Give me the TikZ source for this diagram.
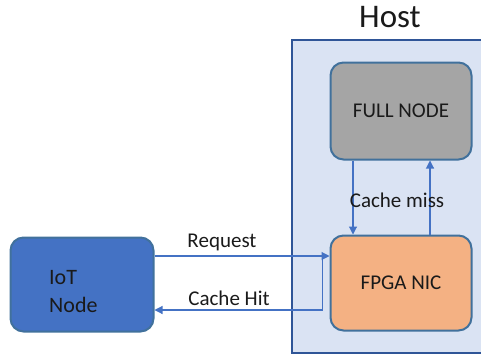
\documentclass[tikz,border=0pt]{standalone}
\usepackage{fontspec}
\setmainfont{Carlito}
\usetikzlibrary{arrows.meta,calc}
\definecolor{hostfill}{HTML}{DAE3F3}
\definecolor{hostline}{HTML}{2F5597}
\definecolor{nodeline}{HTML}{41719C}
\definecolor{arrowc}{HTML}{4472C4}
\definecolor{iotfill}{HTML}{4472C4}
\definecolor{fullfill}{HTML}{A5A5A5}
\definecolor{fpgafill}{HTML}{F4B183}
\definecolor{txt}{HTML}{1A1A1A}
\tikzset{
  box/.style={draw=nodeline, line width=2pt, rounded corners=13pt, inner sep=0pt, font=\fontsize{21}{25}\selectfont, text=txt},
  conn/.style={draw=arrowc, line width=1.1pt, -{Triangle[length=8pt,width=8pt]}},
  lbl/.style={font=\fontsize{21}{25}\selectfont, text=txt, inner sep=0pt}
}
\begin{document}
\begin{tikzpicture}[x=1pt,y=-1pt]
\useasboundingbox (0,0) rectangle (481,356);
\clip (0,0) rectangle (481,356);
\node[draw=hostline, fill=hostfill, line width=2pt, minimum width=200pt, minimum height=313pt, anchor=north west, inner sep=0pt] (host) at (291,39) {};
\node[font=\fontsize{33}{38}\selectfont, text=txt, inner sep=0pt] (hostlbl) at (390,17) {Host};
\node[box, fill=fullfill, minimum width=141pt, minimum height=97pt] (full) at (401,111) {FULL NODE};
\node[box, fill=fpgafill, minimum width=141pt, minimum height=95pt] (fpga) at (401,283) {FPGA NIC};
\node[box, fill=iotfill, minimum width=143pt, minimum height=94pt] (iot) at (82,284.5) {};
\node[lbl, anchor=west, align=left, font=\fontsize{22}{28}\selectfont] (iotlbl) at (49,292) {IoT\\Node};
% Request
\draw[conn] (iot.east |- 0,256) -- (fpga.west |- 0,256) coordinate (reqend);
\node[lbl] (req) at (222,242) {Request};
% Cache hit
\coordinate (hitstart) at ($(fpga.west |- 0,256)+(-7,0)$);
\draw[conn] (hitstart) |- (iot.east |- 0,310);
\node[lbl] (hit) at (229,298) {Cache Hit};
% Cache miss
\draw[conn] (full.south -| 353,0) -- (fpga.north -| 353,0);
\draw[conn] (fpga.north -| 430,0) -- (full.south -| 430,0);
\node[lbl] (miss) at (397,200) {Cache miss};
\end{tikzpicture}
\end{document}
